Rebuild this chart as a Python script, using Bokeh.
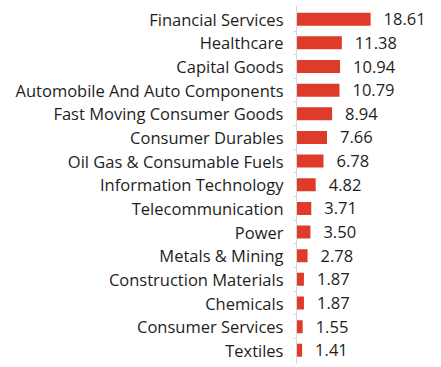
from bokeh.plotting import figure
from bokeh.models import ColumnDataSource, Range1d, FixedTicker
from bokeh.core.properties import value
from bokeh.embed import file_html
from bokeh.resources import INLINE

categories = ["Financial Services", "Healthcare", "Capital Goods",
              "Automobile And Auto Components", "Fast Moving Consumer Goods",
              "Consumer Durables", "Oil Gas & Consumable Fuels",
              "Information Technology", "Telecommunication", "Power",
              "Metals & Mining", "Construction Materials", "Chemicals",
              "Consumer Services", "Textiles"]
weights = [18.61, 11.38, 10.94, 10.79, 8.94, 7.66, 6.78, 4.82, 3.71, 3.50,
           2.78, 1.87, 1.87, 1.55, 1.41]
labels = ["%.2f" % w for w in weights]

idx = list(range(len(categories)))
src = ColumnDataSource(dict(y=idx, w=weights, lab=labels))

FONT = "Open Sans"
TXT = "#1e1e1e"

p = figure(width=433, height=364, output_backend="svg", toolbar_location=None,
           x_range=Range1d(0, 34.4), y_range=Range1d(14.6, -0.58),
           min_border_left=296, min_border_right=0, min_border_top=5,
           min_border_bottom=0)
p.outline_line_color = None
p.grid.grid_line_color = None
p.xaxis.visible = False

p.hbar(y="y", left=0, right="w", height=0.55, source=src,
       fill_color="#DF3B2A", line_color=None)
p.text(x="w", y="y", text="lab", source=src, x_offset=13,
       text_baseline="middle", text_align="left",
       text_font=value(FONT), text_font_size="16.5px", text_color=TXT)

ya = p.yaxis[0]
ya.ticker = FixedTicker(ticks=idx, minor_ticks=[i + 0.5 for i in idx[:-1]])
ya.major_label_overrides = {i: c for i, c in enumerate(categories)}
ya.major_tick_line_color = None
ya.major_tick_out = 0
ya.major_tick_in = 0
ya.minor_tick_out = 3
ya.minor_tick_in = 0
ya.minor_tick_line_color = "#d8d8d8"
ya.axis_line_color = "#d8d8d8"
ya.major_label_standoff = 10
ya.major_label_text_font = FONT
ya.major_label_text_font_size = "16.5px"
ya.major_label_text_color = TXT

open("out.html", "w").write(file_html(p, INLINE))
